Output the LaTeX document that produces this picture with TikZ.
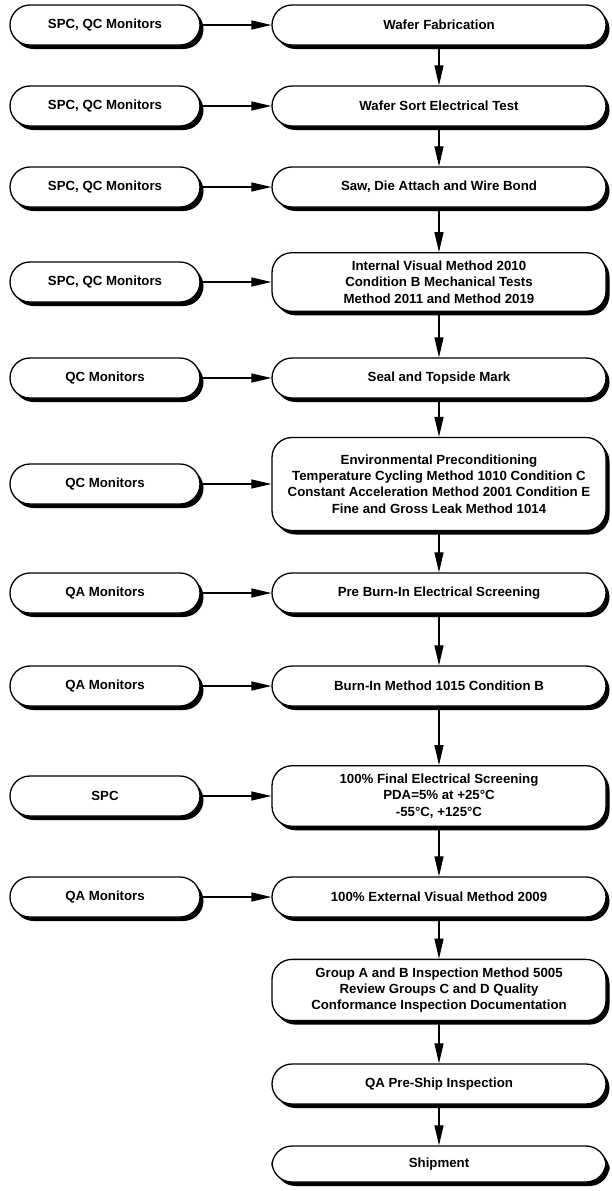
\documentclass[tikz,border=0pt]{standalone}
\usepackage{fontspec}
\setmainfont{Liberation Sans}
\usetikzlibrary{arrows.meta,shadows}

\begin{document}
\begin{tikzpicture}[x=1bp,y=-1bp,
        boxline/.style={draw, line width=1.3bp, fill=white, rounded corners=20bp,
            drop shadow={shadow xshift=3.5bp, shadow yshift=-4bp, opacity=1, fill=black},
            font=\fontsize{13.3}{16.5}\selectfont\bfseries, align=center, inner ysep=8bp},
        monbox/.style={boxline, minimum width=190bp, minimum height=40bp},
        stepbox/.style={boxline, minimum width=334bp, minimum height=40bp},
        flow/.style={line width=1.2bp, -{Triangle[length=20bp,width=9bp]}}]
    \useasboundingbox (0,0) rectangle (612,1191);

    % monitor boxes
    \node[monbox] (mon1) at (105,25) {SPC, QC Monitors};
    \node[monbox] (mon2) at (105,106) {SPC, QC Monitors};
    \node[monbox] (mon3) at (105,187) {SPC, QC Monitors};
    \node[monbox] (mon4) at (105,282) {SPC, QC Monitors};
    \node[monbox] (mon5) at (105,378) {QC Monitors};
    \node[monbox] (mon6) at (105,484) {QC Monitors};
    \node[monbox] (mon7) at (105,593) {QA Monitors};
    \node[monbox] (mon8) at (105,686) {QA Monitors};
    \node[monbox] (mon9) at (105,796) {SPC};
    \node[monbox] (mon10) at (105,897) {QA Monitors};

    % process steps
    \node[stepbox] (step1) at (439,25) {Wafer Fabrication};
    \node[stepbox] (step2) at (439,106) {Wafer Sort Electrical Test};
    \node[stepbox] (step3) at (439,187) {Saw, Die Attach and Wire Bond};
    \node[stepbox] (step4) at (439,282) {Internal Visual Method 2010\\Condition B Mechanical Tests\\Method 2011 and Method 2019};
    \node[stepbox] (step5) at (439,378) {Seal and Topside Mark};
    \node[stepbox, minimum height=93bp] (step6) at (439,484) {Environmental Preconditioning\\Temperature Cycling Method 1010 Condition C\\Constant Acceleration Method 2001 Condition E\\Fine and Gross Leak Method 1014};
    \node[stepbox] (step7) at (439,593) {Pre Burn-In Electrical Screening};
    \node[stepbox] (step8) at (439,686) {Burn-In Method 1015 Condition B};
    \node[stepbox] (step9) at (439,796) {100\% Final Electrical Screening\\PDA=5\% at +25°C\\-55°C, +125°C};
    \node[stepbox] (step10) at (439,897) {100\% External Visual Method 2009};
    \node[stepbox] (step11) at (439,990) {Group A and B Inspection Method 5005\\Review Groups C and D Quality\\Conformance Inspection Documentation};
    \node[stepbox] (step12) at (439,1084) {QA Pre-Ship Inspection};
    \node[stepbox, minimum height=36bp] (step13) at (439,1164) {Shipment};

    % monitor arrows
    \draw[flow] (mon1) -- (step1);
    \draw[flow] (mon2) -- (step2);
    \draw[flow] (mon3) -- (step3);
    \draw[flow] (mon4) -- (step4);
    \draw[flow] (mon5) -- (step5);
    \draw[flow] (mon6) -- (step6);
    \draw[flow] (mon7) -- (step7);
    \draw[flow] (mon8) -- (step8);
    \draw[flow] (mon9) -- (step9);
    \draw[flow] (mon10) -- (step10);

    % process flow
    \draw[flow] (step1) -- (step2);
    \draw[flow] (step2) -- (step3);
    \draw[flow] (step3) -- (step4);
    \draw[flow] (step4) -- (step5);
    \draw[flow] (step5) -- (step6);
    \draw[flow] (step6) -- (step7);
    \draw[flow] (step7) -- (step8);
    \draw[flow] (step8) -- (step9);
    \draw[flow] (step9) -- (step10);
    \draw[flow] (step10) -- (step11);
    \draw[flow] (step11) -- (step12);
    \draw[flow] (step12) -- (step13);
\end{tikzpicture}
\end{document}
